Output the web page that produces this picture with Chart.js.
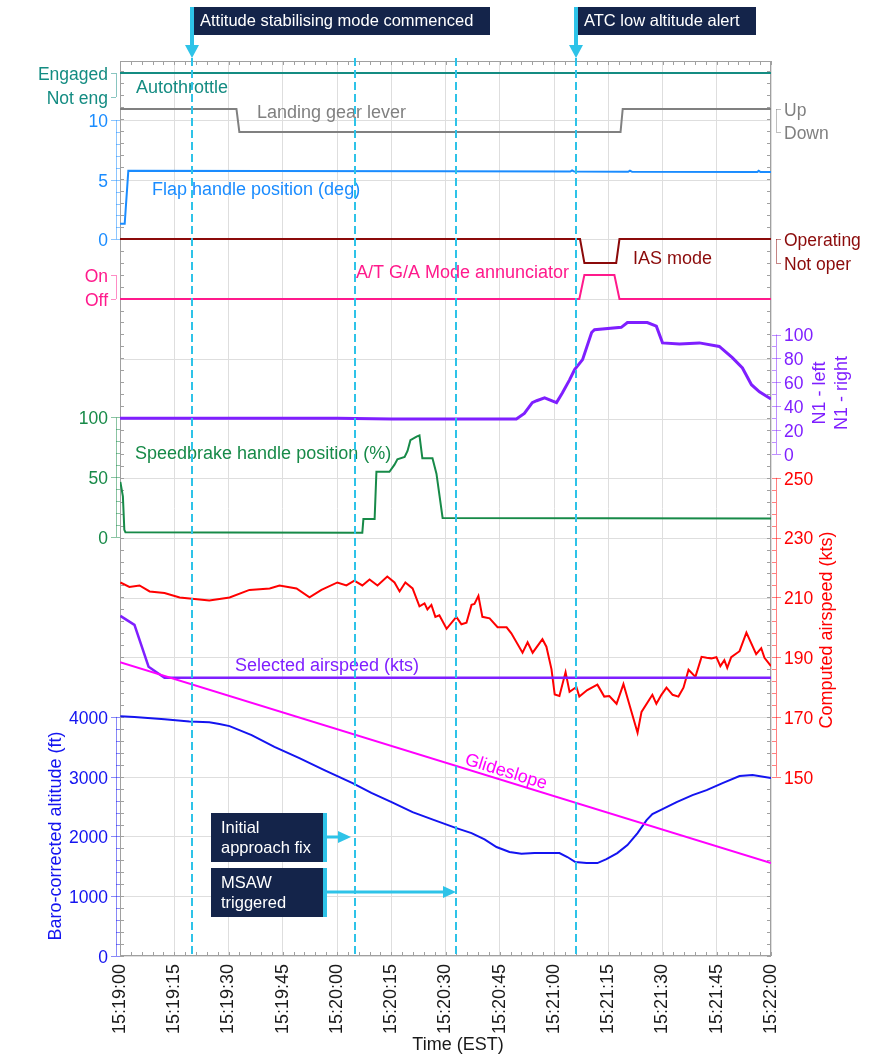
<!DOCTYPE html>
<html>
<head>
<meta charset="utf-8">
<script src="https://cdn.jsdelivr.net/npm/chart.js@4.4.1/dist/chart.umd.min.js"></script>
<style>
  html, body { margin: 0; padding: 0; background: #fff; }
</style>
</head>
<body>
<canvas id="flightChart" width="886" height="1055"></canvas>
<script>
const FONT = 'Arial, "Liberation Sans", sans-serif';

// --- Data: [seconds after 15:19:00, value] ---
const autothrottle = [[0, 1], [180, 1]];
const gearLever = [[0, 1], [32.2, 1], [33.0, 0], [138.4, 0], [139.0, 1], [180, 1]];
const flapHandle = [[0, 1.3], [1.3, 1.3], [2.3, 5.74], [40, 5.72], [90, 5.7], [124.5, 5.68], [125, 5.78], [125.6, 5.68],
  [140.5, 5.66], [141, 5.76], [141.6, 5.66], [176.2, 5.64], [176.6, 5.74], [177.1, 5.64], [180, 5.64]];
const iasMode = [[0, 1], [127.2, 1], [128.4, 0], [137.2, 0], [138.1, 1], [180, 1]];
const gaAnnunciator = [[0, 0], [127.0, 0], [128.4, 1], [136.7, 1], [138.1, 0], [180, 0]];
const n1 = [[0, 30], [60, 30], [75, 29.3], [109.6, 29.3], [111.8, 34], [114, 43], [115.2, 44.6], [117.4, 47], [120.7, 43],
  [122.3, 51], [124.3, 62], [125.7, 70.6], [127.9, 79], [130.4, 101.7], [131.2, 104], [138.6, 106], [140.3, 110],
  [145.8, 110], [148.3, 107], [150, 93], [154.7, 92], [160.2, 93], [165.7, 90], [169.3, 80.6], [172.1, 72],
  [174.6, 58], [176.8, 52], [180, 46]];
const speedbrake = [[0.1, 46], [0.8, 34], [1.2, 6], [1.5, 4], [30, 3.8], [67.0, 3.5], [67.3, 15], [70.4, 15], [70.9, 54.6],
  [74.5, 54.6], [75.9, 60.5], [76.7, 65], [78.7, 67], [79.5, 72], [80.3, 81], [82.0, 84], [82.8, 85], [83.6, 66],
  [86.4, 66], [87.5, 53], [89.2, 16], [180, 15.5]];
const computedAirspeed = [[0.1, 215], [2.6, 213.5], [5.4, 214], [8.2, 212], [12.3, 211.5], [16.5, 210], [20.6, 209.5],
  [24.7, 209], [30.3, 210], [35.8, 212.5], [41.4, 213], [44.1, 214], [48.8, 213], [52.4, 210], [55.7, 212.5],
  [60.1, 215], [62.6, 214], [64.8, 215.6], [67.0, 214], [69.0, 216], [71.2, 214], [73.9, 217], [75.9, 215],
  [77.3, 212], [78.9, 215], [80.9, 213], [82.8, 207], [84.2, 208], [85.0, 206], [86.1, 207.5], [87.2, 203.5],
  [88.3, 204], [90.3, 199.5], [93.0, 203.5], [94.4, 201], [95.8, 201.5], [97.2, 207.5], [98.0, 207.8],
  [99.1, 210.5], [100.2, 203.5], [102.2, 203], [104.4, 200], [106.9, 200], [108.2, 198], [111.3, 191.5],
  [112.7, 195], [114.1, 191.5], [116.8, 196], [117.9, 193.5], [119.3, 186], [120.2, 177.5], [121.5, 177],
  [123.2, 185], [124.3, 178.4], [126.2, 180], [127.0, 176.8], [129.2, 179], [132.0, 180.8], [133.9, 176.8],
  [135.3, 177], [137.3, 174.4], [139.2, 181], [143.1, 164.7], [144.2, 171.7], [147.2, 177.4], [148.3, 174.4],
  [149.7, 177.4], [151.1, 179.8], [152.8, 177.4], [154.4, 176.8], [155.8, 179.8], [157.2, 185.8], [159.1, 183.4],
  [160.8, 190.1], [162.2, 189.8], [163.5, 189.6], [164.9, 190], [166.0, 187], [167.1, 189], [167.9, 186.4],
  [169.0, 190], [171.3, 192], [173.2, 198.2], [175.9, 191], [177.3, 193], [178.2, 189.8], [180, 187]];
const selectedAirspeed = [[0.1, 203.8], [4.0, 200.8], [7.9, 186.8], [12.3, 183.1], [180, 183.1]];
const glideslope = [[0, 4916], [180, 1555]];
const altitude = [[0.1, 4013], [4.0, 4000], [12.3, 3963], [19.2, 3925], [24.7, 3910], [27.5, 3880], [30.3, 3846],
  [36.4, 3696], [42.7, 3500], [49.6, 3311], [56.5, 3110], [64.3, 2893], [69.5, 2730], [75.1, 2575], [80.9, 2408],
  [86.9, 2274], [93.0, 2140], [97.2, 2057], [100.8, 1950], [104.1, 1823], [107.7, 1740], [111.0, 1710],
  [114.6, 1725], [118.2, 1722], [121.5, 1722], [123.7, 1656], [125.9, 1572], [129.0, 1555], [132.0, 1555],
  [134.5, 1622], [137.5, 1722], [140.3, 1856], [143.1, 2057], [145.6, 2274], [147.2, 2375], [150.0, 2458],
  [153.9, 2575], [158.3, 2692], [162.2, 2776], [166.6, 2893], [171.3, 3010], [174.9, 3027], [180, 2977]];

// events (seconds after 15:19:00)
const eventTimes = [20, 65, 93, 126];

// --- Tick labels ---
const autothrottleLabels = ['Not eng', 'Engaged'];
const gearLabels = ['Down', 'Up'];
const iasLabels = ['Not oper', 'Operating'];
const gaLabels = ['Off', 'On'];
const flapTicks = [0, 5, 10];
const speedbrakeTicks = [0, 50, 100];
const altitudeTicks = [0, 1000, 2000, 3000, 4000];
const n1Ticks = [0, 20, 40, 60, 80, 100];
const airspeedTicks = [150, 170, 190, 210, 230, 250];

const C = {
    teal: '#148c82', gray: '#808080', flap: '#1a8cff', darkRed: '#8b0a0a', pink: '#ff1a8c',
    purple: '#7f1fff', green: '#178a48', red: '#ff0000', magenta: '#ff00ff', alt: '#1414f0',
    cyan: '#2ec3e8', navy: '#14244a'
};

const pts = arr => arr.map(p => ({ x: p[0], y: p[1] }));
const fmtTime = v => {
    const s = 19 * 60 + v;
    const m = Math.floor(s / 60), sec = Math.round(s % 60);
    return `15:${m}:${String(sec).padStart(2, '0')}`;
};

function ds(data, yAxisID, color, width) {
    return { data: pts(data), yAxisID, borderColor: color, borderWidth: width || 2, pointRadius: 0, tension: 0, fill: false };
}

function hidden(min, max) {
    return { type: 'linear', display: false, min, max };
}

// --- Custom axis drawing (tick labels placed through each scale) ---
const leftAxes = [
    { id: 'yAT', color: C.teal, ticks: [1, 0], labels: v => autothrottleLabels[v] },
    { id: 'yFlap', color: C.flap, ticks: flapTicks, minor: 1 },
    { id: 'yGA', color: C.pink, ticks: [1, 0], labels: v => gaLabels[v] },
    { id: 'ySB', color: C.green, ticks: speedbrakeTicks, minor: 10 },
    { id: 'yAlt', color: C.alt, ticks: altitudeTicks, minor: 200 }
];
const rightAxes = [
    { id: 'yGear', color: C.gray, ticks: [1, 0], labels: v => gearLabels[v] },
    { id: 'yIAS', color: C.darkRed, ticks: [1, 0], labels: v => iasLabels[v] },
    { id: 'yN1', color: C.purple, ticks: n1Ticks, minor: 10 },
    { id: 'yAS', color: C.red, ticks: airspeedTicks, minor: 4 }
];

function drawAxis(ctx, chart, spec, side) {
    const a = chart.chartArea;
    const s = chart.scales[spec.id];
    const ax = side === 'left' ? a.left - 4 : a.right + 5;
    const dir = side === 'left' ? -1 : 1;
    const lo = Math.min(...spec.ticks), hi = Math.max(...spec.ticks);
    ctx.save();
    ctx.strokeStyle = spec.color;
    ctx.lineWidth = 1;
    ctx.globalAlpha = 0.5;
    ctx.beginPath();
    ctx.moveTo(ax + 0.5, s.getPixelForValue(hi));
    ctx.lineTo(ax + 0.5, s.getPixelForValue(lo));
    if (spec.minor) {
        for (let v = lo; v <= hi; v += spec.minor) {
            const py = Math.round(s.getPixelForValue(v)) + 0.5;
            ctx.moveTo(ax, py); ctx.lineTo(ax - dir * 4, py);
        }
    }
    spec.ticks.forEach(v => {
        const py = Math.round(s.getPixelForValue(v)) + 0.5;
        ctx.moveTo(ax, py); ctx.lineTo(ax + dir * 5, py);
    });
    ctx.stroke();
    ctx.globalAlpha = 1;
    ctx.fillStyle = spec.color;
    ctx.font = '17.5px ' + FONT;
    ctx.textBaseline = 'middle';
    ctx.textAlign = side === 'left' ? 'right' : 'left';
    spec.ticks.forEach(v => {
        const txt = spec.labels ? spec.labels(v) : String(v);
        ctx.fillText(txt, ax + dir * 8, s.getPixelForValue(v) + 2);
    });
    ctx.restore();
}

function rotText(ctx, txt, x, y, color, angle) {
    ctx.save();
    ctx.translate(x, y);
    ctx.rotate(angle);
    ctx.fillStyle = color;
    ctx.font = '18px ' + FONT;
    ctx.textAlign = 'center';
    ctx.textBaseline = 'middle';
    ctx.fillText(txt, 0, 0);
    ctx.restore();
}

const overlay = {
    id: 'overlay',
    beforeDatasetsDraw(chart) {
        const { ctx, chartArea: a, scales } = chart;
        ctx.save();
        ctx.strokeStyle = '#a0a0a0';
        ctx.lineWidth = 1;
        ctx.strokeRect(a.left + 0.5, a.top + 0.5, a.right - a.left - 1, a.bottom - a.top - 1);
        ctx.beginPath();
        for (let t = 0; t <= 180; t += 3) {
            const px = Math.round(scales.x.getPixelForValue(t)) + 0.5;
            ctx.moveTo(px, a.top); ctx.lineTo(px, a.top + 4);
            ctx.moveTo(px, a.bottom); ctx.lineTo(px, a.bottom - 4);
        }
        for (let v = 0; v <= scales.yAlt.max; v += 200) {
            const py = Math.round(scales.yAlt.getPixelForValue(v)) + 0.5;
            ctx.moveTo(a.left, py); ctx.lineTo(a.left + 4, py);
            ctx.moveTo(a.right, py); ctx.lineTo(a.right - 4, py);
        }
        ctx.stroke();
        ctx.restore();
    },
    afterDatasetsDraw(chart) {
        const { ctx, chartArea: a, scales } = chart;
        leftAxes.forEach(s => drawAxis(ctx, chart, s, 'left'));
        rightAxes.forEach(s => drawAxis(ctx, chart, s, 'right'));

        // axis titles
        rotText(ctx, 'Baro-corrected altitude (ft)', 56, 836, C.alt, -Math.PI / 2);
        rotText(ctx, 'Computed airspeed (kts)', 827, 630, C.red, -Math.PI / 2);
        rotText(ctx, 'N1 - left', 820, 393, C.purple, -Math.PI / 2);
        rotText(ctx, 'N1 - right', 842, 393, C.purple, -Math.PI / 2);
        rotText(ctx, 'Time (EST)', 458, 1045, '#1a1a1a', 0);

        // trace labels
        ctx.save();
        ctx.font = '18px ' + FONT;
        ctx.textBaseline = 'middle';
        ctx.textAlign = 'left';
        [['Autothrottle', 136, 88, C.teal], ['Landing gear lever', 257, 113, C.gray],
         ['Flap handle position (deg)', 152, 190, C.flap], ['A/T G/A Mode annunciator', 356, 273, C.pink],
         ['IAS mode', 633, 259, C.darkRed], ['Speedbrake handle position (%)', 135, 454, C.green],
         ['Selected airspeed (kts)', 235, 666, C.purple]].forEach(([t, x, y, c]) => {
            ctx.fillStyle = c; ctx.fillText(t, x, y);
        });
        ctx.restore();
        rotText(ctx, 'Glideslope', 506, 772, C.magenta, Math.atan2(201, 651));

        // event lines
        ctx.save();
        ctx.strokeStyle = C.cyan;
        ctx.lineWidth = 2;
        ctx.setLineDash([8, 4]);
        eventTimes.forEach(t => {
            const px = Math.round(scales.x.getPixelForValue(t));
            ctx.beginPath();
            ctx.moveTo(px, 58); ctx.lineTo(px, a.bottom);
            ctx.stroke();
        });
        ctx.restore();

        // callouts
        const xs = eventTimes.map(t => Math.round(scales.x.getPixelForValue(t)));
        ctx.save();
        ctx.font = '16.5px ' + FONT;
        ctx.textBaseline = 'middle';
        // top callouts with down arrows
        [[xs[0], 490, 'Attitude stabilising mode commenced'], [xs[3], 756, 'ATC low altitude alert']].forEach(([px, right, txt]) => {
            ctx.fillStyle = C.navy;
            ctx.fillRect(px + 2, 7, right - px - 2, 28);
            ctx.fillStyle = C.cyan;
            ctx.fillRect(px - 2, 7, 4, 38);
            ctx.beginPath();
            ctx.moveTo(px - 7, 45); ctx.lineTo(px + 7, 45); ctx.lineTo(px, 58);
            ctx.closePath(); ctx.fill();
            ctx.fillStyle = '#fff';
            ctx.fillText(txt, px + 8, 21);
        });
        // bottom callouts with right arrows
        [[813, xs[1] - 4, ['Initial', 'approach fix']], [868, xs[2], ['MSAW', 'triggered']]].forEach(([top, tip, lines]) => {
            ctx.fillStyle = C.navy;
            ctx.fillRect(211, top, 112, 49);
            ctx.fillStyle = C.cyan;
            ctx.fillRect(323, top, 4, 49);
            const ym = top + 24;
            ctx.fillRect(327, ym - 1.5, tip - 12 - 327, 3);
            ctx.beginPath();
            ctx.moveTo(tip - 13, ym - 6); ctx.lineTo(tip - 13, ym + 6); ctx.lineTo(tip, ym);
            ctx.closePath(); ctx.fill();
            ctx.fillStyle = '#fff';
            ctx.fillText(lines[0], 221, top + 15);
            ctx.fillText(lines[1], 221, top + 35);
        });
        ctx.restore();
    }
};

const chart = new Chart(document.getElementById('flightChart').getContext('2d'), {
    type: 'line',
    data: {
        datasets: [
            ds(autothrottle, 'yAT', C.teal),
            ds(gearLever, 'yGear', C.gray),
            ds(flapHandle, 'yFlap', C.flap),
            ds(iasMode, 'yIAS', C.darkRed),
            ds(gaAnnunciator, 'yGA', C.pink),
            ds(n1, 'yN1', C.purple, 3),
            ds(speedbrake, 'ySB', C.green),
            ds(glideslope, 'yAlt', C.magenta),
            ds(selectedAirspeed, 'yAS', C.purple, 2.5),
            ds(computedAirspeed, 'yAS', C.red),
            ds(altitude, 'yAlt', C.alt)
        ]
    },
    options: {
        responsive: false,
        animation: false,
        devicePixelRatio: 1,
        events: [],
        layout: { padding: { left: 120, right: 115, top: 61, bottom: 0 } },
        plugins: { legend: { display: false }, tooltip: { enabled: false } },
        scales: {
            x: {
                type: 'linear', min: 0, max: 180, position: 'bottom',
                ticks: {
                    stepSize: 15, autoSkip: false, maxRotation: 90, minRotation: 90,
                    color: '#1a1a1a', font: { size: 18, family: FONT }, padding: 8,
                    callback: v => fmtTime(v)
                },
                grid: { color: '#dedede', drawTicks: false },
                border: { display: false },
                afterFit(s) { s.height = 99; }
            },
            yAlt: {
                type: 'linear', position: 'left', min: 0, max: 14975,
                ticks: { display: false, stepSize: 1000 },
                grid: { color: '#dedede', drawTicks: false },
                border: { display: false },
                afterFit(s) { s.width = 0; }
            },
            yAS: hidden(90, 389.5),
            yN1: hidden(-420.1, 328.9),
            ySB: hidden(-350.6, 398.3),
            yFlap: hidden(-60.08, 14.95),
            yAT: hidden(-35.79, 1.5),
            yGear: hidden(-35.83, 3.087),
            yIAS: hidden(-28.875, 8.417),
            yGA: hidden(-27.375, 9.917)
        }
    },
    plugins: [overlay]
});
</script>
</body>
</html>
